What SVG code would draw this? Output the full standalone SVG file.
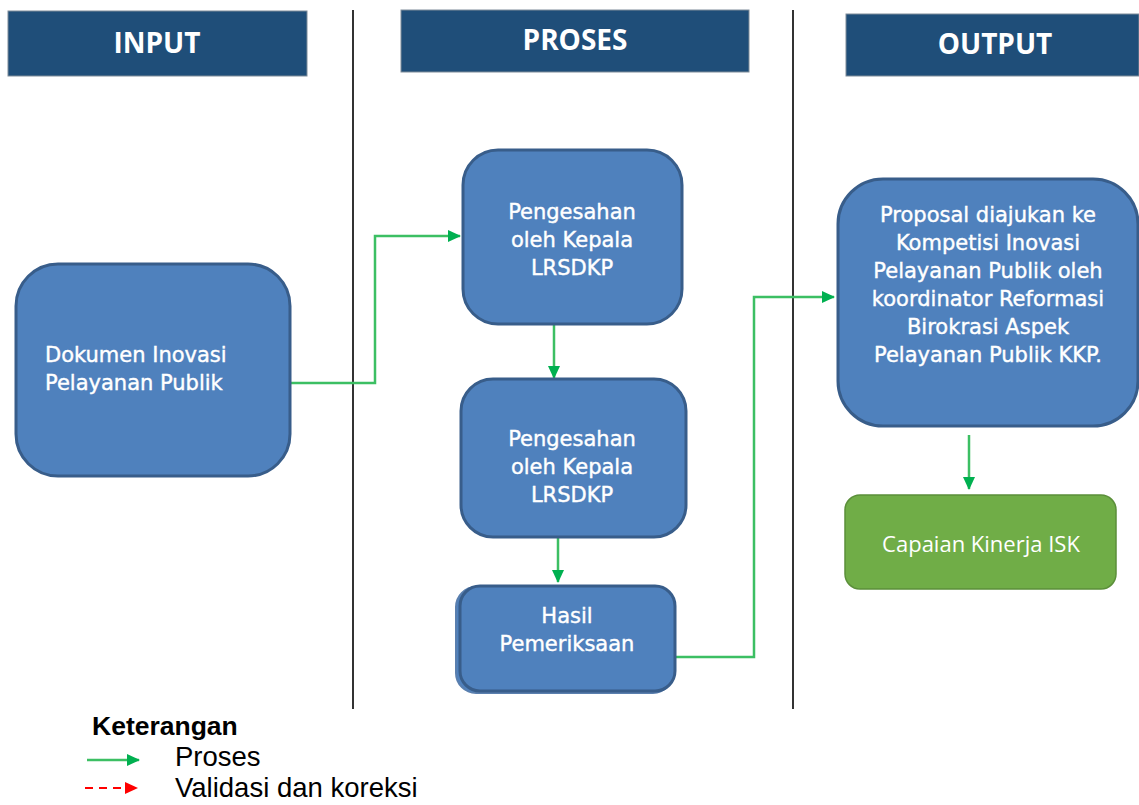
<svg xmlns="http://www.w3.org/2000/svg" width="1139" height="805" viewBox="0 0 1139 805">
<defs>
<style>
.hdr{fill:#1f4e79;stroke:#7f8c99;stroke-width:1}
.ht{font-family:"Open Sans","Liberation Sans",sans-serif;font-weight:bold;font-size:28px;fill:#fff;text-anchor:middle}
.nb{fill:#4f81bd;stroke:#385d8a;stroke-width:3}
.ng{fill:#70ad47;stroke:#5b8f3a;stroke-width:1.5}
.nt{font-family:"DejaVu Sans",sans-serif;font-size:21px;fill:#fff;stroke:#fff;stroke-width:0.4;text-anchor:middle}
.ntl{font-family:"DejaVu Sans",sans-serif;font-size:21px;fill:#fff;stroke:#fff;stroke-width:0.4}
.gt{font-family:"Open Sans","Liberation Sans",sans-serif;font-size:22px;fill:#fff;text-anchor:middle}
.cn{fill:none;stroke:#3cbf63;stroke-width:2.5}
.sep{stroke:#333;stroke-width:2}
.lg{font-family:"Liberation Sans",Arial,sans-serif;fill:#000}
</style>
<marker id="ag" markerWidth="13" markerHeight="12" refX="12" refY="6" orient="auto" markerUnits="userSpaceOnUse"><path d="M0,0 L13,6 L0,12 z" fill="#00b050"/></marker>
<marker id="ar" markerWidth="13" markerHeight="12" refX="12" refY="6" orient="auto" markerUnits="userSpaceOnUse"><path d="M0,0 L13,6 L0,12 z" fill="#ff0000"/></marker>
</defs>
<rect width="1139" height="805" fill="#fff"/>
<g id="headers">
<g id="h-input"><rect class="hdr" x="8" y="11" width="299" height="65"/><text class="ht" x="157" y="53">INPUT</text></g>
<g id="h-proses"><rect class="hdr" x="401" y="10" width="348" height="62"/><text class="ht" x="575" y="50">PROSES</text></g>
<g id="h-output"><rect class="hdr" x="846" y="14" width="293" height="62"/><text class="ht" x="995" y="54">OUTPUT</text></g>
</g>
<g id="separators">
<line class="sep" x1="353" y1="10" x2="353" y2="709"/>
<line class="sep" x1="793" y1="10" x2="793" y2="709"/>
</g>
<g id="connectors">
<polyline class="cn" points="290,383 375,383 375,236 460,236" marker-end="url(#ag)"/>
<polyline class="cn" points="554,325 554,378" marker-end="url(#ag)"/>
<polyline class="cn" points="558,538 558,582" marker-end="url(#ag)"/>
<polyline class="cn" points="675,657 754,657 754,297 834,297" marker-end="url(#ag)"/>
<polyline class="cn" points="969,435 969,489" marker-end="url(#ag)"/>
</g>
<g id="n-dokumen"><rect class="nb" x="16" y="264" width="274" height="212" rx="42"/><text class="ntl" x="45" y="362">Dokumen Inovasi</text><text class="ntl" x="45" y="390">Pelayanan Publik</text></g>
<g id="n-pengesahan1"><rect class="nb" x="463" y="150" width="219" height="174" rx="35"/><text class="nt" x="572" y="219">Pengesahan</text><text class="nt" x="572" y="247">oleh Kepala</text><text class="nt" x="572" y="275">LRSDKP</text></g>
<g id="n-pengesahan2"><rect class="nb" x="461" y="379" width="225" height="158" rx="32"/><text class="nt" x="572" y="446">Pengesahan</text><text class="nt" x="572" y="474">oleh Kepala</text><text class="nt" x="572" y="502">LRSDKP</text></g>
<g id="n-hasil"><rect x="456" y="587" width="217" height="106" rx="20" fill="#4f81bd" stroke="#5a7fae" stroke-width="2"/><rect class="nb" x="460" y="586" width="215" height="105" rx="20"/><text class="nt" x="567" y="623">Hasil</text><text class="nt" x="567" y="651">Pemeriksaan</text></g>
<g id="n-proposal"><rect class="nb" x="838" y="179" width="300" height="247" rx="45"/><text class="nt" x="988" y="222">Proposal diajukan ke</text><text class="nt" x="988" y="250">Kompetisi Inovasi</text><text class="nt" x="988" y="278">Pelayanan Publik oleh</text><text class="nt" x="988" y="306">koordinator Reformasi</text><text class="nt" x="988" y="334">Birokrasi Aspek</text><text class="nt" x="988" y="362">Pelayanan Publik KKP.</text></g>
<g id="n-capaian"><rect class="ng" x="845" y="495" width="271" height="94" rx="15"/><text class="gt" x="981" y="552">Capaian Kinerja ISK</text></g>
<g id="legend">
<text class="lg" x="92" y="735" font-size="26.5" font-weight="bold">Keterangan</text>
<line x1="87" y1="760" x2="139" y2="760" stroke="#3cbf63" stroke-width="2.5" marker-end="url(#ag)"/>
<text class="lg" x="175" y="766" font-size="27.5">Proses</text>
<line x1="85" y1="788" x2="137" y2="788" stroke="#ff0000" stroke-width="2" stroke-dasharray="8,6" marker-end="url(#ar)"/>
<text class="lg" x="175" y="797" font-size="27.5">Validasi dan koreksi</text>
</g>
</svg>
